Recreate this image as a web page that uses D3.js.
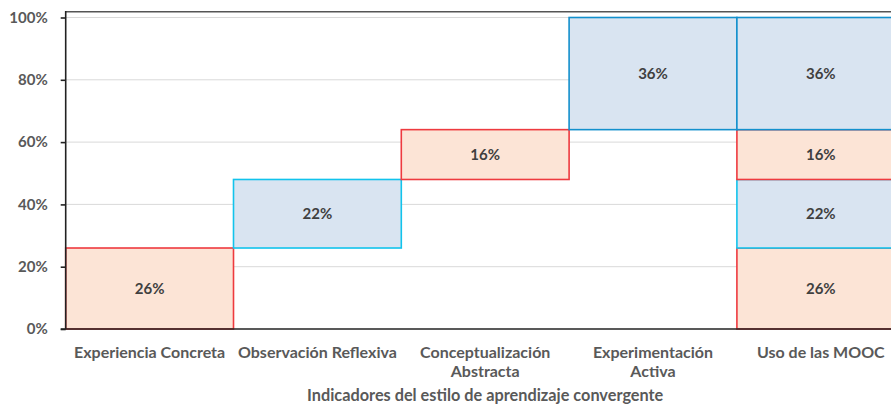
<!DOCTYPE html>
<html><head><meta charset="utf-8">
<script src="https://cdn.jsdelivr.net/npm/d3@7"></script>
<style>
body{margin:0;background:#fff;}
svg{display:block;font-family:Lato,"Open Sans",sans-serif;}
</style></head>
<body><svg id="c" width="891" height="406"></svg>
<script>
const categories = ["Experiencia Concreta","Observación Reflexiva","Conceptualización Abstracta","Experimentación Activa","Uso de las MOOC"];
const tickLabels = [["Experiencia Concreta"],["Observación Reflexiva"],["Conceptualización","Abstracta"],["Experimentación","Activa"],["Uso de las MOOC"]];
const values = [26,22,16,36];
const seriesKind = ["orange","blue","orange","blue"];
const totalCategory = "Uso de las MOOC";
const yTicks = [0,20,40,60,80,100];
const xTitle = "Indicadores del estilo de aprendizaje convergente";

const fills = {orange:"#FCE4D6", blue:"#D9E4F1"};
const strokes = ["#EE3A3F","#12C3EC","#EE3A3F","#1390CD"];

const svg = d3.select("#c");
const x = d3.scaleBand().domain(categories).range([65.7, 904.7]).padding(0);
const y = d3.scaleLinear().domain([0,100]).range([329, 17.5]);

// top frame line
svg.append("line").attr("x1",65.7).attr("x2",891).attr("y1",11.8).attr("y2",11.8)
  .attr("stroke","#555").attr("stroke-width",1.5);

// gridlines
svg.append("g").selectAll("line").data(yTicks.filter(d=>d>0)).join("line")
  .attr("x1",65.7).attr("x2",891).attr("y1",d=>y(d)).attr("y2",d=>y(d))
  .attr("stroke","#D9D9D9").attr("stroke-width",1);

// build segments
let cum = 0;
const segs = [];
values.forEach((v,i)=>{
  segs.push({cat:categories[i], y0:cum, y1:cum+v, v, kind:seriesKind[i], stroke:strokes[i]});
  cum += v;
});
let c2 = 0;
values.forEach((v,i)=>{
  segs.push({cat:totalCategory, y0:c2, y1:c2+v, v, kind:seriesKind[i], stroke:strokes[i]});
  c2 += v;
});
segs.sort((a,b)=>a.y0-b.y0);

const g = svg.append("g");
g.selectAll("rect").data(segs).join("rect")
  .attr("x",d=>x(d.cat)).attr("width",x.bandwidth())
  .attr("y",d=>y(d.y1)).attr("height",d=>y(d.y0)-y(d.y1))
  .attr("fill",d=>fills[d.kind]).attr("stroke",d=>d.stroke).attr("stroke-width",1.6);

g.selectAll("text").data(segs).join("text")
  .attr("x",d=>x(d.cat)+x.bandwidth()/2)
  .attr("y",d=>(y(d.y0)+y(d.y1))/2)
  .attr("dy","0.35em").attr("text-anchor","middle")
  .attr("font-size",15).attr("font-weight","bold").attr("fill","#404040")
  .text(d=>d.v+"%");

// y axis
const ya = svg.append("g").attr("transform","translate(65.7,0)")
  .call(d3.axisLeft(y).tickValues(yTicks).tickFormat(d=>d+"%").tickSize(5).tickPadding(13));
ya.select(".domain").attr("stroke","#222").attr("stroke-width",1.6).attr("d","M-0,329V11");
ya.selectAll(".tick line").attr("stroke","#222").attr("stroke-width",1.6);
ya.selectAll(".tick text").attr("font-size",15).attr("font-weight","bold").attr("fill","#595959")
  .attr("font-family","Lato,'Open Sans',sans-serif");

// x axis line
svg.append("line").attr("x1",60.7).attr("x2",891).attr("y1",329).attr("y2",329)
  .attr("stroke","#222").attr("stroke-width",1.6);

// category labels
const xl = svg.append("g");
categories.forEach((c,i)=>{
  const t = xl.append("text").attr("text-anchor","middle")
    .attr("font-size",16).attr("font-weight","bold").attr("fill","#595959");
  tickLabels[i].forEach((ln,j)=>{
    t.append("tspan").attr("x",x(c)+x.bandwidth()/2).attr("y",357.5+j*19.5).text(ln);
  });
});

svg.append("text").attr("x",(65.7+904.7)/2).attr("y",400.5)
  .attr("text-anchor","middle").attr("font-size",16.3).attr("font-weight","bold").attr("fill","#595959")
  .text(xTitle);
</script></body></html>
